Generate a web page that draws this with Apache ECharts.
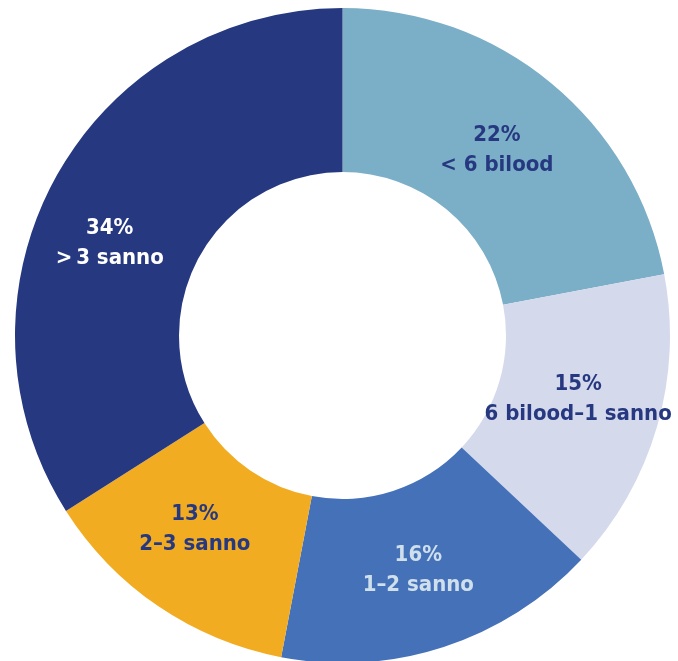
<!DOCTYPE html>
<html>
<head>
<meta charset="utf-8">
<style>
  html, body { margin: 0; padding: 0; background: #ffffff; }
  #chart { width: 678px; height: 661px; }
</style>
<script src="https://cdn.jsdelivr.net/npm/echarts@6/dist/echarts.min.js"></script>
</head>
<body>
<div id="chart"></div>
<script>
// Share of entries by duration band, clockwise from 12 o'clock
const categories = ['< 6 bilood', '6 bilood–1 sanno', '1–2 sanno', '2–3 sanno', '>\u20093 sanno'];
const shares = [22, 15, 16, 13, 34];
const sliceColors = ['#7BAEC7', '#D5D9EC', '#4571B8', '#F2AC21', '#263880'];
const textColors = ['#263880', '#263880', '#CFE0EC', '#263880', '#FFFFFF'];
// small nudges for label placement inside each slice
const labelShift = [[-4, 6], [-3, -6], [-1, -2], [-8, -12], [-15, 27]];

const chart = echarts.init(document.getElementById('chart'), null, { renderer: 'canvas' });

chart.setOption({
  animation: false,
  series: [{
    type: 'pie',
    center: [342.5, 335.5],
    radius: [163.5, 327.5],
    startAngle: 90,
    clockwise: true,
    silent: true,
    label: {
      show: true,
      position: 'inside',
      fontFamily: '"DejaVu Sans Condensed", "Liberation Sans Narrow", sans-serif',
      fontWeight: 'bold',
      fontSize: 22,
      lineHeight: 30,
      align: 'center',
      formatter: p => p.value + '%\n' + p.name
    },
    labelLine: { show: false },
    labelLayout: p => ({ dx: labelShift[p.dataIndex][0], dy: labelShift[p.dataIndex][1] }),
    data: categories.map((name, i) => ({
      name,
      value: shares[i],
      itemStyle: { color: sliceColors[i] },
      label: { color: textColors[i] }
    }))
  }]
});
</script>
</body>
</html>
